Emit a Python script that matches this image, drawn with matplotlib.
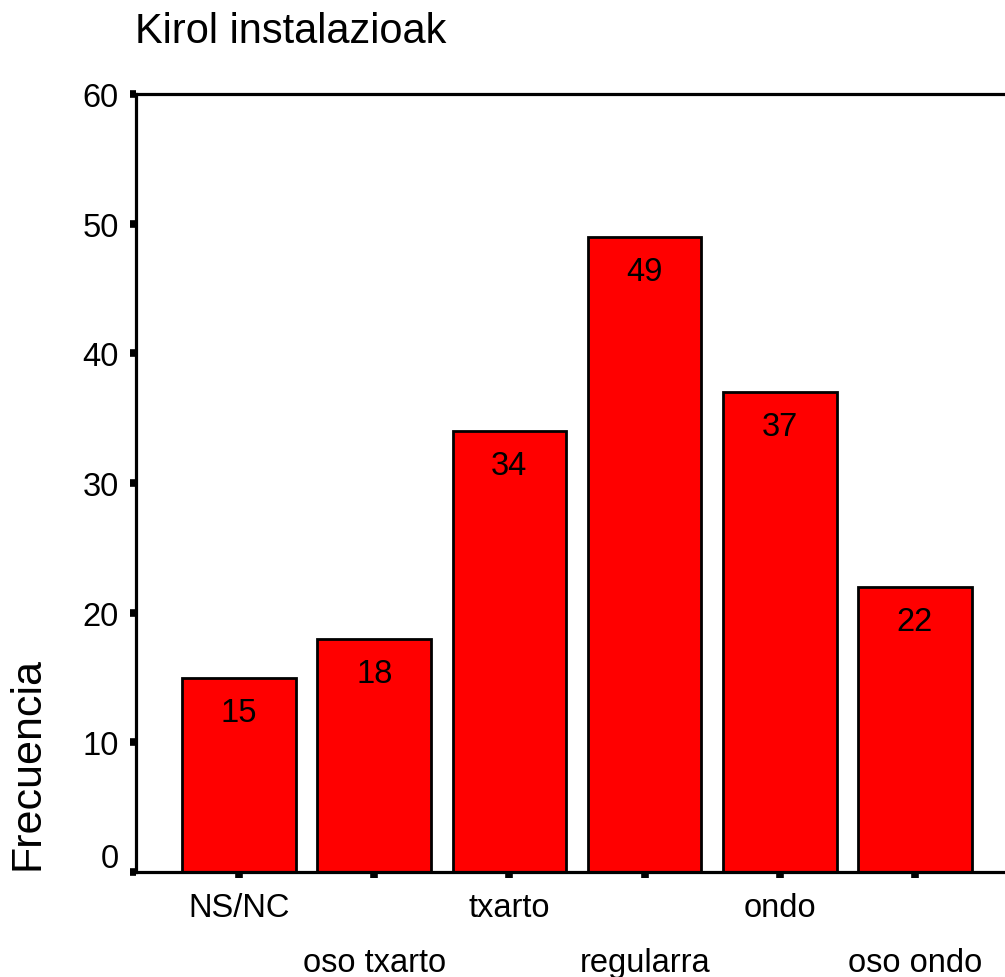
import matplotlib
matplotlib.use("Agg")
import matplotlib.pyplot as plt
from matplotlib.transforms import ScaledTranslation

plt.rcParams["font.family"] = ["Liberation Sans", "DejaVu Sans"]

categories = ["NS/NC", "oso txarto", "txarto", "regularra", "ondo", "oso ondo"]
counts = [15, 18, 34, 49, 37, 22]
yticks = [0, 10, 20, 30, 40, 50, 60]

W, H = 1005, 978
fig = plt.figure(figsize=(W / 100, H / 100), dpi=100)
# axes runs past the right edge of the figure, as in the original
ax = fig.add_axes([136 / W, 105 / H, 882 / W, 778 / H])

x = list(range(len(categories)))
ax.bar(x, counts, width=0.84, color="#ff0000", edgecolor="black", linewidth=2.0, zorder=2)
for xi, v in zip(x, counts):
    ax.annotate(str(v), (xi, v), xytext=(0, -25), textcoords="offset points",
                ha="center", va="center", fontsize=23.5)

ax.set_xlim(-0.762, 5.762)
ax.set_ylim(0, 60)
ax.set_yticks(yticks)
ax.set_xticks(x)
ax.set_xticklabels(categories, fontsize=23.5)
ax.set_yticklabels([str(t) for t in yticks], fontsize=23.5)

for s in ax.spines.values():
    s.set_linewidth(2.3)
ax.spines["right"].set_visible(False)

ax.tick_params(axis="both", direction="out", length=4.5, width=5.5, color="black")
ax.tick_params(axis="y", pad=8)
ax.tick_params(axis="x", pad=10)

# alternate x labels onto a second row
for i, lbl in enumerate(ax.get_xticklabels()):
    if i % 2 == 1:
        lbl.set_transform(lbl.get_transform() + ScaledTranslation(0, -0.55, fig.dpi_scale_trans))
# the 0 label sits a bit above its tick
ylbls = ax.get_yticklabels()
ylbls[0].set_transform(ylbls[0].get_transform() + ScaledTranslation(0, 0.17, fig.dpi_scale_trans))

fig.text(135 / W, 1 - 43 / H, "Kirol instalazioak", fontsize=30, ha="left", va="baseline")
fig.text(28 / W, 1 - 870 / H, "Frecuencia", fontsize=31, rotation=90, ha="center", va="bottom")

fig.savefig("out.png", dpi=100)
